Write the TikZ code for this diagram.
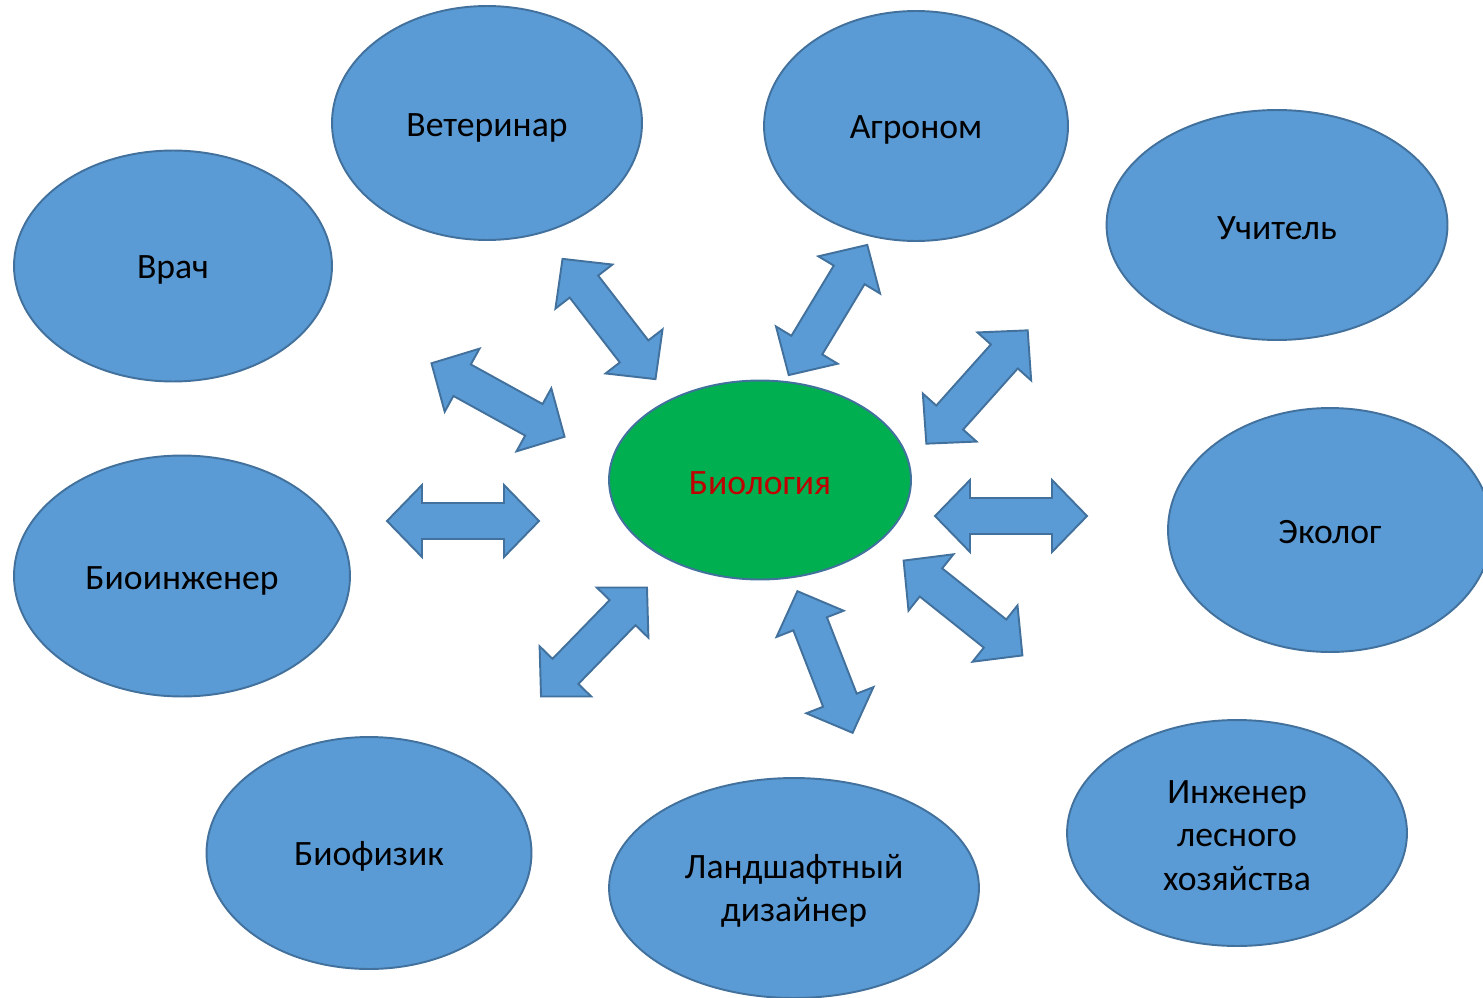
\documentclass[tikz,border=0pt]{standalone}
\usepackage{fontspec}
\setmainfont{Carlito}
\usetikzlibrary{shapes.geometric}
\definecolor{elfill}{HTML}{5B9BD5}
\definecolor{eldraw}{HTML}{41719C}
\definecolor{biogreen}{HTML}{00B050}
\definecolor{biored}{HTML}{C00000}
\tikzset{
  job/.style={ellipse, draw=eldraw, fill=elfill, line width=1.1pt, inner sep=0pt},
  center/.style={job, fill=biogreen},
  lbl/.style={inner sep=0pt, align=center, font=\fontsize{20.3pt}{24.8pt}\selectfont, text=black},
  centerlbl/.style={lbl, text=biored},
  blockarrow/.style={draw=eldraw, fill=elfill, line width=1.1pt, line join=miter},
}
\newcommand\dblarrow[2]{%
  \draw[blockarrow, shift={(#1)}, rotate=#2]
    (-76,0) -- (-41,-36) -- (-41,-18) -- (41,-18) -- (41,-36) -- (76,0)
    -- (41,36) -- (41,18) -- (-41,18) -- (-41,36) -- cycle;}
\begin{document}
\begin{tikzpicture}[x=0.02cm, y=-0.02cm]
\clip (0,0) rectangle (1483,997);
\fill[white] (0,0) rectangle (1483,997);

\node[job, minimum width=6.2cm, minimum height=4.68cm] (vet) at (487,123) {};
\node[job, minimum width=6.08cm, minimum height=4.6cm] (agr) at (916,126) {};
\node[job, minimum width=6.82cm, minimum height=4.6cm] (uch) at (1277,225) {};
\node[job, minimum width=6.36cm, minimum height=4.62cm] (vrach) at (173,266) {};
\node[job, minimum width=6.48cm, minimum height=4.88cm] (ekol) at (1330,530) {};
\node[job, minimum width=6.72cm, minimum height=4.82cm] (bioing) at (182,576) {};
\node[center, minimum width=6.04cm, minimum height=3.98cm] (bio) at (760,480) {};
\node[job, minimum width=6.5cm, minimum height=4.64cm] (biofiz) at (369,853) {};
\node[job, minimum width=7.4cm, minimum height=4.4cm] (land) at (794,888) {};
\node[job, minimum width=6.8cm, minimum height=4.52cm] (les) at (1237,833) {};

\node[lbl] (vet-t) at ([yshift=-0.09cm]vet.center) {Ветеринар};
\node[lbl] (agr-t) at ([yshift=-0.08cm]agr.center) {Агроном};
\node[lbl] (uch-t) at ([yshift=-0.06cm]uch.center) {Учитель};
\node[lbl] (vrach-t) at ([yshift=-0.08cm]vrach.center) {Врач};
\node[lbl] (ekol-t) at ([yshift=-0.05cm]ekol.center) {Эколог};
\node[lbl] (bioing-t) at ([yshift=-0.09cm]bioing.center) {Биоинженер};
\node[centerlbl] (bio-t) at ([yshift=-0.06cm]bio.center) {Биология};
\node[lbl] (biofiz-t) at ([yshift=-0.07cm]biofiz.center) {Биофизик};
\node[lbl] (land-t) at ([yshift=-0.06cm]land.center) {Ландшафтный\\дизайнер};
\node[lbl] (les-t) at ([yshift=-0.05cm]les.center) {Инженер\\лесного\\хозяйства};

\coordinate (a1) at (498,400);
\coordinate (a2) at (609,319);
\coordinate (a3) at (828,310);
\coordinate (a4) at (977,387);
\coordinate (a5) at (1011,516);
\coordinate (a6) at (963,608);
\coordinate (a7) at (825,662);
\coordinate (a8) at (594,642);
\coordinate (a9) at (463,521);

\dblarrow{a1}{-28.9}
\dblarrow{a2}{-52.3}
\dblarrow{a3}{58.9}
\dblarrow{a4}{48.2}
\dblarrow{a5}{0}
\dblarrow{a6}{-38.6}
\dblarrow{a7}{-68.7}
\dblarrow{a8}{45.8}
\dblarrow{a9}{0}
\end{tikzpicture}
\end{document}
